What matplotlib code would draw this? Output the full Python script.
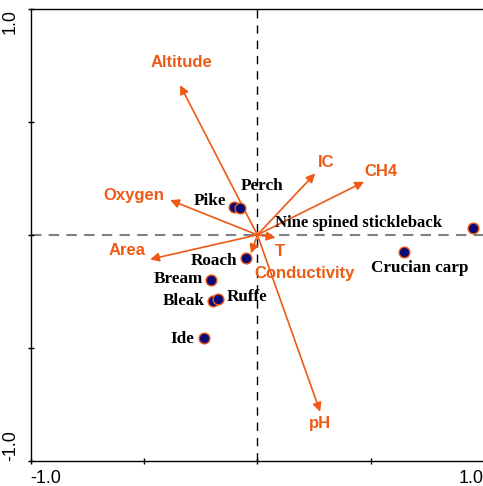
import matplotlib
matplotlib.use('Agg')
import matplotlib.pyplot as plt

# environmental variables (arrows)
env_names = ['Altitude', 'IC', 'CH4', 'Oxygen', 'Area', 'T', 'Conductivity', 'pH']
env_x = [-0.341, 0.255, 0.471, -0.385, -0.473, 0.080, -0.028, 0.277]
env_y = [0.663, 0.272, 0.235, 0.154, -0.108, -0.012, -0.082, -0.783]

# species scores
species = ['Pike', 'Perch', 'Roach', 'Bream', 'Bleak', 'Ruffe', 'Ide',
           'Nine spined stickleback', 'Crucian carp']
sp_x = [-0.101, -0.076, -0.051, -0.204, -0.197, -0.175, -0.235, 0.950, 0.649]
sp_y = [0.122, 0.117, -0.103, -0.200, -0.291, -0.284, -0.458, 0.029, -0.075]

orange = '#EE5A14'
navy = '#0A0A78'

fig = plt.figure(figsize=(4.83, 4.86), dpi=100)
ax = fig.add_axes([0.0636, 0.052, 0.9385, 0.9294])
ax.set_xlim(-1, 1)
ax.set_ylim(-1, 1)

# dashed zero lines
ax.axhline(0, color='#808080', lw=1.5, ls=(0, (5, 3.5)), zorder=1)
ax.axvline(0, color='black', lw=1, ls=(0, (6, 5)), zorder=1)

# env arrows
for x, y in zip(env_x, env_y):
    ax.annotate('', xy=(x, y), xytext=(0, 0),
                arrowprops=dict(arrowstyle='-|>', color=orange, lw=1.2,
                                mutation_scale=13, shrinkA=0, shrinkB=0),
                zorder=2)

# arrow labels, offsets in pixels from arrow tip
env_off = {
    'Altitude': (1, 23), 'IC': (11, 11), 'CH4': (17, 10), 'Oxygen': (-36, 5),
    'Area': (-23, 9), 'T': (4, -14), 'Conductivity': (54, -20), 'pH': (0, -12),
}
for name, x, y in zip(env_names, env_x, env_y):
    dx, dy = env_off[name]
    ax.annotate(name, xy=(x, y), xytext=(dx, dy), textcoords='offset pixels',
                ha='center', va='center', color=orange, fontsize=12,
                fontweight='bold', family='Liberation Sans', zorder=4)

# species points
ax.scatter(sp_x, sp_y, s=60, color=navy, edgecolors=orange, linewidths=1,
           zorder=3)

sp_off = {
    'Pike': (-25, 6, 'center'), 'Perch': (22, 22, 'center'),
    'Roach': (-32, -3, 'center'), 'Bream': (-33, 1, 'center'),
    'Bleak': (-29, 0, 'center'), 'Ruffe': (29, 2, 'center'),
    'Ide': (-22, -1, 'center'), 'Nine spined stickleback': (-198, 5, 'left'),
    'Crucian carp': (15, -16, 'center'),
}
for name, x, y in zip(species, sp_x, sp_y):
    dx, dy, ha = sp_off[name]
    fs = 12.0 if name == 'Nine spined stickleback' else 12.3
    ax.annotate(name, xy=(x, y), xytext=(dx, dy), textcoords='offset pixels',
                ha=ha, va='center', color='black', fontsize=fs,
                fontweight='bold', family='Liberation Serif', zorder=4)

# axes styling
for side in ['top', 'right', 'left', 'bottom']:
    ax.spines[side].set_linewidth(1)
ax.set_xticks([-1, -0.5, 0, 0.5, 1])
ax.set_yticks([-1, -0.5, 0, 0.5, 1])
ax.set_xticklabels(['-1.0', '', '', '', '1.0'])
ax.set_yticklabels(['-1.0', '', '', '', '1.0'], rotation=90)
ax.tick_params(direction='inout', length=5, width=1, labelsize=13, pad=4)
ax.tick_params(axis='y', pad=6)
xl = ax.get_xticklabels()
for lab in xl:
    lab.set_family('Liberation Sans')
xl[0].set_ha('left')
xl[-1].set_ha('right')
yl = ax.get_yticklabels()
for lab in yl:
    lab.set_family('Liberation Sans')
yl[0].set_va('bottom')
yl[-1].set_va('top')

fig.savefig('out.png', dpi=100)
